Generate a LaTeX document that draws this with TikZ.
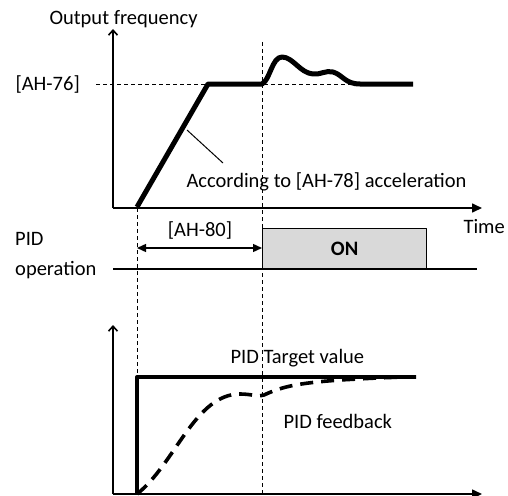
\documentclass[tikz,border=0pt]{standalone}
\usepackage{fontspec}
\setmainfont{Carlito}
\usetikzlibrary{arrows.meta}

\begin{document}
\begin{tikzpicture}[x=1pt,y=-1pt,line cap=butt,line join=round,font=\fontsize{20.5}{24}\selectfont]
\useasboundingbox (0,0) rectangle (508,495);
% upper graph
\coordinate (o1) at (113,208);
\coordinate (y1) at (113,29);
\coordinate (x1) at (482,208);
\coordinate (s) at (137,207);
\coordinate (A) at (208,84);
\coordinate (B) at (262,84);
\coordinate (C) at (413,84);
\coordinate (d1) at (96,84);
\coordinate (v1) at (262,42);
\coordinate (v2) at (262,495);
\coordinate (w1) at (137,208);
\coordinate (w2) at (137,377);
\draw[-{Straight Barb[length=5pt,width=9pt]},line width=1.6pt] (o1) -- (y1);
\draw[-{Triangle[length=10pt,width=9pt]},line width=1.6pt] (o1) -- (x1);
\draw[dash pattern=on 4pt off 3pt,line width=0.9pt] (d1) -- (360,84);
\draw[dash pattern=on 4pt off 3pt,line width=0.9pt] (v1) -- (v2);
\draw[dash pattern=on 4pt off 3pt,line width=0.9pt] (w1) -- (w2);
\draw[line width=5pt] (s) -- (A) -- (B) .. controls (270,80) and (272,57) .. (282,57) .. controls (293,57) and (300,73) .. (313,74) .. controls (320,75) and (326,70) .. (333,72) .. controls (343,75) and (345,84) .. (360,84) -- (C);
\node[anchor=west] (outf) at (46,19) {Output frequency};
\node[anchor=west] (ah76) at (12,84) {[AH-76]};
\node[anchor=west] (acc) at (183,182) {According to [AH-78] acceleration};
\coordinate (p) at (187,130);
\draw[line width=1pt] (p) -- (223,163);
\node[anchor=west] (time) at (460,227) {Time};
% PID operation
\coordinate (o2) at (113,269);
\coordinate (x2) at (477,269);
\draw[line width=1.6pt] (o2) -- (x2);
\node[anchor=west,align=left,inner sep=0pt,font=\fontsize{20.5}{30}\selectfont] (pidop) at (15,256) {PID\\operation};
\node[draw,line width=1.2pt,fill=black!15,anchor=south west,minimum width=164pt,minimum height=40pt,inner sep=0pt,font=\fontsize{20.5}{24}\selectfont\bfseries] (on) at (262,269) {ON};
\coordinate (a1) at (137,248);
\coordinate (a2) at (262,248);
\draw[{Triangle[length=9pt,width=8pt]}-{Triangle[length=9pt,width=8pt]},line width=1.4pt] (a1) -- (a2);
\node (ah80) at (200,230) {[AH-80]};
% lower graph
\coordinate (o3) at (113,494);
\coordinate (y3) at (113,325);
\coordinate (x3) at (482,494);
\draw[-{Straight Barb[length=5pt,width=9pt]},line width=1.6pt] (o3) -- (y3);
\draw[-{Triangle[length=10pt,width=9pt]},line width=1.6pt] (o3) -- (x3);
\coordinate (t0) at (137,494);
\coordinate (t1) at (137,377);
\coordinate (t2) at (416,377);
\draw[line width=3.3pt] (t0) -- (t1) -- (t2);
\draw[dash pattern=on 13pt off 8pt,line width=3.6pt] (t0) .. controls (175,464) and (195,394) .. (240,394) .. controls (252,394) and (256,397) .. (264,395) .. controls (283,386) and (300,383) .. (340,380) .. controls (375,378) and (395,377) .. (t2);
\node[anchor=west] (tgt) at (227,358) {PID Target value};
\node[anchor=west] (fb) at (280,421) {PID feedback};
\end{tikzpicture}
\end{document}
